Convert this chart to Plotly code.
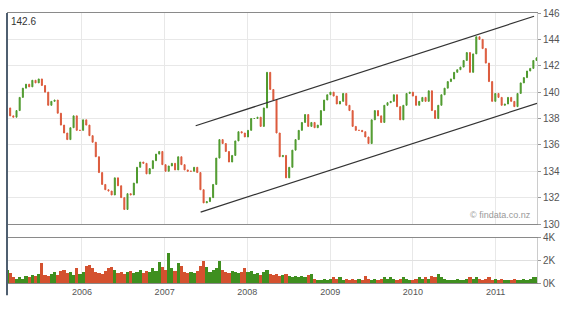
import plotly.graph_objects as go
import pandas as pd

# ---- data ----
start_date = "2005-02-04"
closes = [
    138.8, 138.2, 138.1, 138.6, 139.6, 140.3, 140.6, 140.4, 140.9, 140.7,
    141.0, 140.5, 140.0, 139.0, 139.3, 139.4, 138.4, 137.5, 136.9, 136.4,
    137.3, 138.2, 137.1, 137.1, 137.9, 137.5, 136.7, 136.2, 135.1, 133.9,
    133.0, 132.6, 132.5, 132.2, 133.5, 132.9, 132.0, 131.1, 132.3, 132.2,
    133.1, 134.3, 134.7, 134.6, 133.8, 134.2, 134.8, 135.3, 135.5, 134.5,
    134.0, 134.4, 134.6, 134.1, 135.1, 134.5, 134.1, 134.0, 134.0, 134.3,
    133.9, 132.6, 131.6, 131.7, 132.0, 133.0, 135.0, 136.4, 136.1, 135.5,
    134.7, 135.2, 136.3, 137.0, 136.9, 136.6, 137.1, 138.0, 138.0, 138.1,
    137.4, 138.8, 141.5, 140.2, 139.4, 136.9, 135.1, 135.2, 133.5, 134.3,
    135.6, 136.4, 137.1, 137.7, 138.3, 137.4, 137.7, 137.3, 137.5, 138.6,
    139.4, 139.8, 140.0, 139.7, 139.1, 139.3, 139.9, 139.0, 138.6, 137.4,
    137.1, 137.1, 137.0, 136.6, 136.1, 137.9, 138.6, 138.2, 137.7, 139.0,
    139.2, 139.3, 139.8, 138.9, 137.9, 139.0, 139.9, 140.0, 139.7, 139.0,
    139.3, 139.6, 139.3, 140.1, 138.6, 138.0, 139.0, 139.8, 140.3, 140.8,
    141.0, 141.5, 141.7, 141.9, 142.4, 143.0, 141.5, 142.9, 144.2, 144.0,
    143.3, 142.2, 140.8, 139.3, 139.9, 139.6, 139.0, 139.1, 139.6, 139.3,
    138.9, 139.9, 140.7, 141.1, 141.6, 141.8, 142.4, 142.6,
]
volume_k = [
    1.2, 0.9, 0.5, 0.4, 0.5, 0.4, 0.6, 0.5, 0.7, 0.6,
    0.8, 1.8, 0.7, 0.6, 0.8, 1.0, 0.7, 1.1, 1.2, 0.9,
    1.0, 0.7, 1.3, 0.8, 1.0, 1.5, 1.6, 1.3, 1.0, 0.9,
    0.8, 1.1, 1.3, 1.4, 1.2, 0.9, 1.0, 0.8, 1.0, 1.1,
    0.9, 1.0, 1.2, 0.9, 1.1, 1.0, 1.3, 1.1, 1.9, 1.4,
    1.2, 2.7, 1.3, 1.1, 1.8, 1.5, 1.0, 0.9, 1.0, 0.9,
    1.1, 1.5, 2.0, 1.4, 1.0, 1.2, 1.3, 2.0, 1.2, 1.0,
    0.9, 1.1, 1.0, 0.9, 1.0, 1.3, 1.0, 1.1, 0.8, 0.9,
    0.7, 1.0, 1.2, 0.8, 0.7, 0.8, 0.6, 0.7, 0.8, 0.6,
    0.5, 0.6, 0.5, 0.6, 0.5, 0.7, 0.8, 0.4, 0.3, 0.3,
    0.4, 0.3, 0.4, 0.5, 0.4, 0.5, 0.3, 0.4, 0.3, 0.4,
    0.3, 0.4, 0.3, 0.6, 0.4, 0.3, 0.4, 0.3, 0.4, 0.5,
    0.4, 0.5, 0.4, 0.3, 0.4, 0.5, 0.4, 0.3, 0.3, 0.4,
    0.5, 0.4, 0.5, 0.4, 0.6, 0.5, 0.8, 0.5, 0.4, 0.3,
    0.3, 0.3, 0.4, 0.3, 0.3, 0.4, 0.5, 0.4, 0.5, 0.4,
    0.3, 0.4, 0.5, 0.3, 0.4, 0.3, 0.4, 0.3, 0.3, 0.3,
    0.4, 0.3, 0.3, 0.4, 0.3, 0.4, 0.5, 0.5,
]
upper_line_dates = ["2007-05-18", "2011-06-20"]
upper_line_vals = [137.45, 145.75]
lower_line_dates = ["2007-06-09", "2011-07-03"]
lower_line_vals = [130.9, 139.15]
last_price_label = "142.6"
credit = "© findata.co.nz"
price_ticks = [130, 132, 134, 136, 138, 140, 142, 144, 146]
vol_ticks = [0, 2, 4]
vol_tick_text = ["0K", "2K", "4K"]
x_range = ["2005-02-04", "2011-07-03"]

# ---- build ----
dates = pd.date_range(start_date, periods=len(closes), freq="14D")
opens = [closes[0]] + closes[:-1]
highs = [max(o, c) for o, c in zip(opens, closes)]
lows = [min(o, c) for o, c in zip(opens, closes)]

GREEN = "#4f9a2e"
RED = "#dc5a3c"
VGREEN = "#3f8f1f"
VRED = "#d4512f"
vol_colors = [VGREEN if c >= o else VRED for o, c in zip(opens, closes)]

fig = go.Figure()
fig.add_trace(go.Candlestick(
    x=dates, open=opens, high=highs, low=lows, close=closes,
    increasing=dict(line=dict(color=GREEN, width=1), fillcolor=GREEN),
    decreasing=dict(line=dict(color=RED, width=1), fillcolor=RED),
    whiskerwidth=0, xaxis="x", yaxis="y", showlegend=False,
))
fig.add_trace(go.Bar(
    x=dates, y=volume_k, marker=dict(color=vol_colors, line=dict(width=0)),
    xaxis="x2", yaxis="y2", showlegend=False,
))

fig.add_trace(go.Scatter(x=upper_line_dates, y=upper_line_vals, mode="lines",
                         line=dict(color="#333333", width=1.2), showlegend=False,
                         xaxis="x", yaxis="y", cliponaxis=False))
fig.add_trace(go.Scatter(x=lower_line_dates, y=lower_line_vals, mode="lines",
                         line=dict(color="#333333", width=1.2), showlegend=False,
                         xaxis="x", yaxis="y", cliponaxis=False))

tickfont = dict(family="Liberation Sans, Arial, sans-serif", size=10, color="#555555")
main_bottom = 0.2185
vol_top = 0.1667

fig.update_layout(
    width=578, height=309,
    margin=dict(l=7, r=41, t=13, b=26),
    paper_bgcolor="white", plot_bgcolor="white",
    bargap=0,
    boxgap=0.55,
    xaxis=dict(domain=[0, 1], anchor="y", range=x_range, type="date",
               rangeslider=dict(visible=False), showticklabels=False,
               showgrid=True, gridcolor="#e8e8e8", gridwidth=1,
               dtick="M12", tick0="2006-01-01",
               showline=True, linecolor="#8a8a8a", linewidth=1, mirror=True,
               zeroline=False, fixedrange=True),
    yaxis=dict(domain=[main_bottom, 1], anchor="x", side="right", range=[130, 146],
               tickvals=price_ticks, showgrid=True, gridcolor="#e8e8e8",
               ticks="outside", ticklen=3, tickcolor="#999999",
               tickfont=tickfont, showline=True, linecolor="#cccccc",
               zeroline=False),
    xaxis2=dict(domain=[0, 1], anchor="y2", matches="x", type="date",
                showgrid=True, gridcolor="#e8e8e8", dtick="M12",
                tick0="2006-01-01", tickformat="%Y", ticks="",
                tickfont=dict(family="Liberation Sans, Arial, sans-serif", size=9, color="#555555"),
                showline=True, linecolor="#8a8a8a", linewidth=1, mirror=True,
                zeroline=False),
    yaxis2=dict(domain=[0, vol_top], anchor="x2", side="right", range=[0, 4],
                tickvals=vol_ticks, ticktext=vol_tick_text, showgrid=True,
                gridcolor="#e0e0e0", ticks="outside", ticklen=3,
                tickcolor="#999999", tickfont=tickfont, showline=True,
                linecolor="#cccccc", zeroline=False),
    shapes=[
        dict(type="line", xref="paper", yref="paper", x0=0, x1=0, y0=-0.045, y1=1,
             line=dict(color="#4f5f70", width=2)),
    ],
    annotations=[
        dict(text=last_price_label, xref="paper", yref="paper", x=0.004, y=0.995,
             xanchor="left", yanchor="top", showarrow=False,
             font=dict(family="Liberation Sans, Arial, sans-serif", size=10, color="#333333")),
        dict(text=credit, xref="paper", yref="paper", x=0.993, y=main_bottom + 0.006,
             xanchor="right", yanchor="bottom", showarrow=False,
             font=dict(family="Liberation Sans, Arial, sans-serif", size=9, color="#999999")),
    ],
)

fig.write_html("out.html")
